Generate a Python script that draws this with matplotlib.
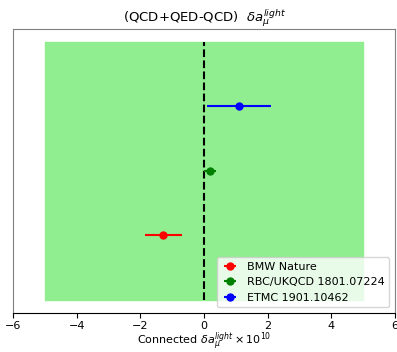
import matplotlib
matplotlib.use("Agg")
import matplotlib.pyplot as plt

labels = ["BMW Nature", "RBC/UKQCD 1801.07224", "ETMC 1901.10462"]
values = [-1.28, 0.19, 1.1]
errors = [0.58, 0.18, 1.0]
colors = ["red", "green", "blue"]
ypos = [1, 2, 3]

fig = plt.figure(figsize=(3.97, 3.52), dpi=100)
ax = fig.add_axes([0.033, 0.111, 0.962, 0.807])

ax.fill_between([-5, 5], 0, 4, color="lightgreen")
ax.vlines(0, 0, 4, colors="black", linestyles="dashed")

for lab, v, e, c, y in zip(labels, values, errors, colors, ypos):
    ax.errorbar(v, y, xerr=e, fmt="o", color=c, label=lab, markersize=5)

ax.set_xlim(-6, 6)
ax.set_yticks([])
ax.set_title(r"(QCD+QED-QCD)  $\delta a_\mu^{light}$", fontsize=9.5, pad=5)
ax.set_xlabel(r"Connected $\delta a_\mu^{light} \times 10^{10}$", fontsize=8, labelpad=0)
ax.tick_params(labelsize=8, pad=2)
for s in ["top", "left", "right"]:
    ax.spines[s].set_color("gray")
ax.legend(loc="lower right", fontsize=8, handlelength=1.5)

fig.savefig("out.png")
